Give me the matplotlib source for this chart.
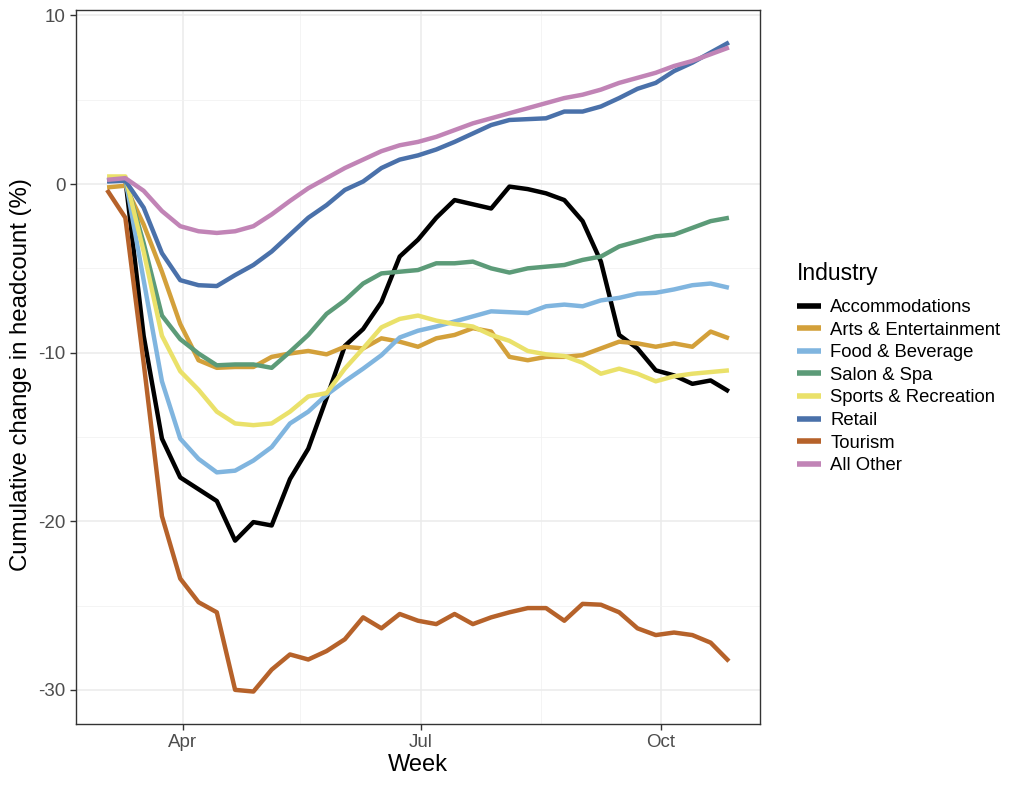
import matplotlib
matplotlib.use("Agg")
import matplotlib.pyplot as plt
import matplotlib.dates as mdates
from matplotlib.ticker import FixedLocator
import pandas as pd

plt.rcParams["font.family"] = ["Liberation Sans", "DejaVu Sans"]
plt.rcParams["axes.unicode_minus"] = False

weeks = pd.date_range("2020-03-03", periods=35, freq="7D")

industries = [
    "Accommodations",
    "Arts & Entertainment",
    "Food & Beverage",
    "Salon & Spa",
    "Sports & Recreation",
    "Retail",
    "Tourism",
    "All Other",
]

accommodations = [
    0.2, 0.3, -9.0, -15.1, -17.4, -18.1, -18.8, -21.15, -20.05, -20.25,
    -17.5, -15.7, -12.7, -9.6, -8.6, -7.0, -4.3, -3.3, -2.0, -0.95,
    -1.2, -1.45, -0.15, -0.3, -0.55, -0.95, -2.2, -4.6, -8.95, -9.75,
    -11.05, -11.35, -11.85, -11.65, -12.3,
]
arts = [
    -0.2, -0.1, -2.4, -5.2, -8.3, -10.45, -10.9, -10.85, -10.85, -10.25,
    -10.05, -9.9, -10.1, -9.65, -9.75, -9.15, -9.35, -9.65, -9.15, -8.95,
    -8.55, -8.75, -10.25, -10.45, -10.25, -10.25, -10.15, -9.75, -9.35, -9.45,
    -9.65, -9.45, -9.65, -8.75, -9.15,
]
food = [
    0.2, 0.3, -5.7, -11.7, -15.1, -16.3, -17.1, -17.0, -16.4, -15.6,
    -14.2, -13.5, -12.5, -11.7, -10.95, -10.15, -9.1, -8.7, -8.45, -8.15,
    -7.85, -7.55, -7.6, -7.65, -7.25, -7.15, -7.25, -6.9, -6.75, -6.5,
    -6.45, -6.25, -6.0, -5.9, -6.15,
]
salon = [
    0.2, 0.3, -3.5, -7.8, -9.2, -10.05, -10.75, -10.7, -10.7, -10.9,
    -9.95, -8.95, -7.7, -6.9, -5.9, -5.3, -5.2, -5.1, -4.7, -4.7,
    -4.6, -5.0, -5.25, -5.0, -4.9, -4.8, -4.5, -4.3, -3.7, -3.4,
    -3.1, -3.0, -2.6, -2.2, -2.0,
]
sports = [
    0.45, 0.45, -4.0, -9.0, -11.1, -12.2, -13.5, -14.2, -14.3, -14.2,
    -13.5, -12.6, -12.4, -10.95, -9.75, -8.5, -8.0, -7.8, -8.1, -8.3,
    -8.45, -8.95, -9.3, -9.9, -10.1, -10.2, -10.6, -11.25, -10.95, -11.25,
    -11.7, -11.4, -11.25, -11.15, -11.05,
]
retail = [
    0.15, 0.2, -1.4, -4.1, -5.7, -6.0, -6.05, -5.4, -4.8, -4.0,
    -3.0, -2.0, -1.25, -0.35, 0.15, 0.95, 1.45, 1.7, 2.05, 2.5,
    3.0, 3.5, 3.8, 3.85, 3.9, 4.3, 4.3, 4.6, 5.1, 5.65,
    6.0, 6.7, 7.2, 7.8, 8.4,
]
tourism = [
    -0.35, -2.0, -10.6, -19.7, -23.4, -24.8, -25.4, -30.0, -30.1, -28.8,
    -27.9, -28.2, -27.7, -27.0, -25.7, -26.35, -25.5, -25.9, -26.1, -25.5,
    -26.1, -25.7, -25.4, -25.15, -25.15, -25.9, -24.9, -24.95, -25.4, -26.35,
    -26.75, -26.6, -26.75, -27.2, -28.3,
]
all_other = [
    0.25, 0.35, -0.4, -1.6, -2.5, -2.8, -2.9, -2.8, -2.5, -1.8,
    -1.0, -0.25, 0.35, 0.95, 1.45, 1.95, 2.3, 2.5, 2.8, 3.2,
    3.6, 3.9, 4.2, 4.5, 4.8, 5.1, 5.3, 5.6, 6.0, 6.3,
    6.6, 7.0, 7.3, 7.7, 8.1,
]

series = [accommodations, arts, food, salon, sports, retail, tourism, all_other]
colors = ["#000000", "#D3A03A", "#80B5DF", "#5C9B78", "#EAE16A",
          "#4A71AA", "#B6622A", "#C184B6"]

fig = plt.figure(figsize=(10.24, 7.91), dpi=100)
ax = fig.add_axes([0.0742, 0.0847, 0.6680, 0.9027])

for name, vals, col in zip(industries, series, colors):
    ax.plot(weeks, vals, color=col, lw=3.2, label=name, solid_capstyle="butt")

# ggplot-like 5% expansion on both axes
span = weeks[-1] - weeks[0]
ax.set_xlim(mdates.date2num(weeks[0] - span * 0.05), mdates.date2num(weeks[-1] + span * 0.05))
ymin = min(min(s) for s in series)
ymax = max(max(s) for s in series)
pad = (ymax - ymin) * 0.05
ax.set_ylim(ymin - pad, ymax + pad)

ax.xaxis.set_major_locator(mdates.MonthLocator(bymonth=[4, 7, 10]))
ax.xaxis.set_major_formatter(mdates.DateFormatter("%b"))
minor_dates = pd.to_datetime(["2020-05-16", "2020-08-16"])
ax.xaxis.set_minor_locator(FixedLocator(mdates.date2num(minor_dates)))
ax.set_yticks([-30, -20, -10, 0, 10])
ax.set_yticks([-25, -15, -5, 5], minor=True)

ax.grid(True, which="major", color="#EBEBEB", lw=1.1)
ax.grid(True, which="minor", color="#F2F2F2", lw=0.6)
ax.set_axisbelow(True)

for sp in ax.spines.values():
    sp.set_color("#333333")
    sp.set_linewidth(1.0)

ax.tick_params(axis="both", which="major", length=4, width=1.0, color="#333333",
               labelcolor="#4D4D4D", labelsize=13.5)
ax.tick_params(axis="both", which="minor", length=0)

ax.set_xlabel("Week", fontsize=17, labelpad=2)
ax.set_ylabel("Cumulative change in headcount (%)", fontsize=17.3)
ax.yaxis.set_label_coords(-0.064, 0.49)

leg = ax.legend(
    loc="center left", bbox_to_anchor=(0.762, 0.5345), bbox_transform=fig.transFigure,
    frameon=False, title="Industry", fontsize=13.3, title_fontsize=16.5,
    handlelength=1.3, handletextpad=0.5, labelspacing=0.3,
)
leg._legend_box.align = "left"
leg._legend_box.sep = 10
for line in leg.get_lines():
    line.set_linewidth(4.0)

fig.savefig("out.png", dpi=100)
plt.close(fig)
